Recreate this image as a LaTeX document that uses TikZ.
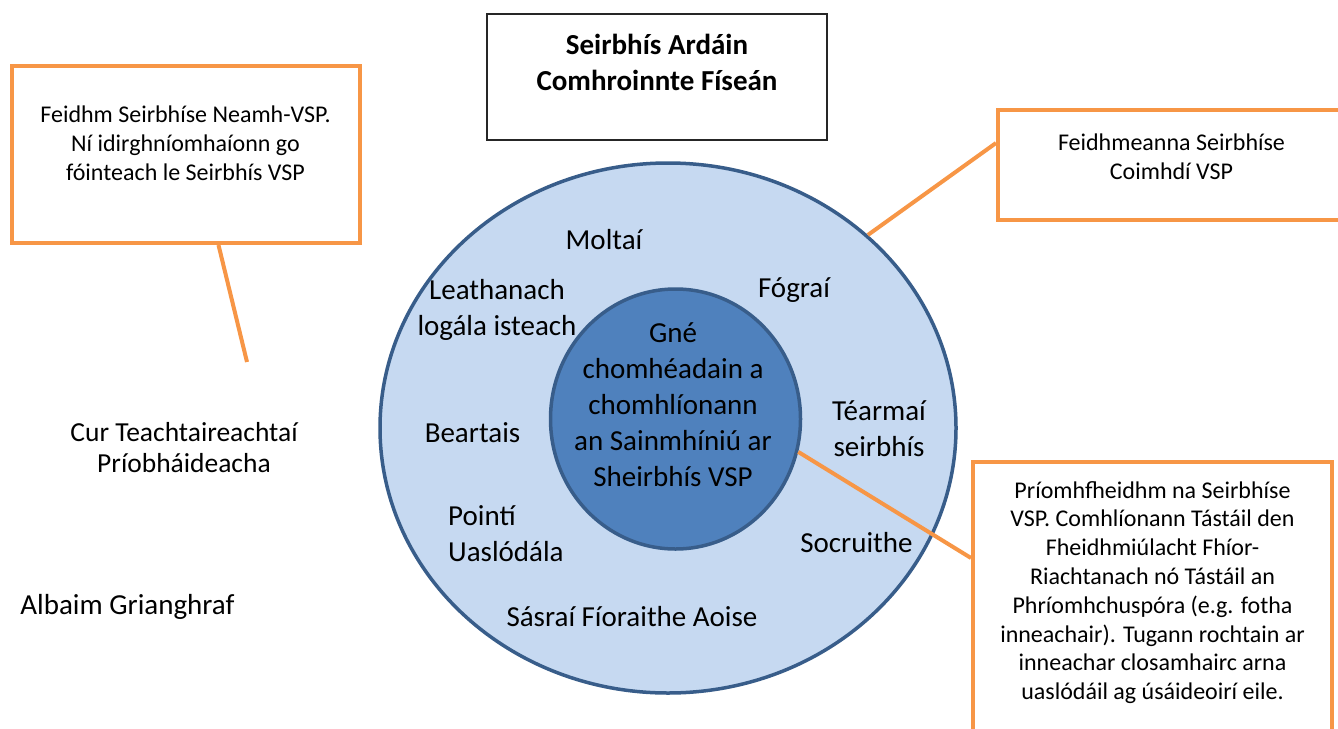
\documentclass[tikz,border=0pt]{standalone}
\usepackage{fontspec}
\setmainfont{Carlito}
\usetikzlibrary{shapes.geometric, calc, positioning}
\definecolor{accorange}{HTML}{F79646}
\definecolor{ringline}{HTML}{385D8A}
\definecolor{ringfill}{HTML}{C6D9F1}
\definecolor{corefill}{HTML}{4F81BD}
\newcommand\bigtxt{\fontsize{29}{36}\selectfont}
\newcommand\smalltxt{\fontsize{24}{28.8}\selectfont}
\newcommand\midtxt{\fontsize{27.5}{31.5}\selectfont}
\tikzstyle{obox} = [rectangle, draw=accorange, line width=4pt, fill=white]
\tikzstyle{tbox} = [rectangle, draw=black!85, line width=1.3pt]
\tikzstyle{ring} = [ellipse, draw=ringline, line width=3.5pt, inner sep=0pt]
\tikzstyle{lbl} = [align=center, inner sep=0pt, font=\bigtxt]
\tikzstyle{note} = [align=center, inner sep=0pt, font=\smalltxt]
\tikzstyle{conn} = [draw=accorange, line width=4pt]

\begin{document}
\begin{tikzpicture}[x=1pt, y=-1pt]
    \useasboundingbox (0,0) rectangle (1338,728);
    % rings
    \node (Outer) [ring, fill=ringfill, minimum width=576pt, minimum height=530pt] at (668,428) {};
    \node (Inner) [ring, fill=corefill, minimum width=250pt, minimum height=260pt] at (675.5,419) {};
    % boxes
    \node (Title) [tbox, minimum width=340pt, minimum height=126pt] at (657,77) {};
    \node (NonVsp) [obox, minimum width=348pt, minimum height=177pt] at (185.5,154.5) {};
    \node (Ancillary) [obox, minimum width=347pt, minimum height=110pt] at (1171.5,165) {};
    \node (CoreBox) [obox, minimum width=359pt, minimum height=283pt] at (1152.5,603.5) {};
    % texts
    \node (Head) [lbl, font=\bigtxt\bfseries] at (657,62) {Seirbhís Ardáin\\Comhroinnte Físeán};
    \node (NonVspTxt) [note] at (185.5,143.5) {Feidhm Seirbhíse Neamh-VSP.\\Ní idirghníomhaíonn go\\fóinteach le Seirbhís VSP};
    \node (AncTxt) [note] at (1171.5,157) {Feidhmeanna Seirbhíse\\Coimhdí VSP};
    \node (CoreTxt) [note] at (1152.5,592.5) {Príomhfheidhm na Seirbhíse\\VSP. Comhlíonann Tástáil den\\Fheidhmiúlacht Fhíor-\\Riachtanach nó Tástáil an\\Phríomhchuspóra (e.g. fotha\\inneachair). Tugann rochtain ar\\inneachar closamhairc arna\\uaslódáil ag úsáideoirí eile.};
    \node (Messages) [lbl, font=\midtxt] at (184,447.5) {Cur Teachtaireachtaí\\Príobháideacha};
    \node (Album) [lbl] at (127.5,607) {Albaim Grianghraf};
    % ring labels
    \node (Recs) [lbl] at (604,240) {Moltaí};
    \node (Login) [lbl] at (497,309.5) {Leathanach\\logála isteach};
    \node (Ads) [lbl] at (794,290) {Fógraí};
    \node (Core) [lbl] at (673,405) {Gné\\chomhéadain a\\chomhlíonann\\an Sainmhíniú ar\\Sheirbhís VSP};
    \node (Terms) [lbl] at (879,429) {Téarmaí\\seirbhís};
    \node (Policy) [lbl] at (472.5,433) {Beartais};
    \node (Upload) [lbl, align=left, anchor=west] at (448,533.5) {Pointí\\Uaslódála};
    \node (Settings) [lbl] at (856.5,543) {Socruithe};
    \node (AgeCheck) [lbl] at (632,617) {Sásraí Fíoraithe Aoise};
    % connectors
    \coordinate (NonVspEnd) at (247,362);
    \draw [conn] ($(NonVsp.south)+(33,0)$) -- (NonVspEnd);
    \draw [conn] (Outer.44) -- ($(Ancillary.west)+(0,-22)$);
    \draw [conn] (Inner.-15) -- ($(CoreBox.north west)+(0,98)$);
\end{tikzpicture}
\end{document}
